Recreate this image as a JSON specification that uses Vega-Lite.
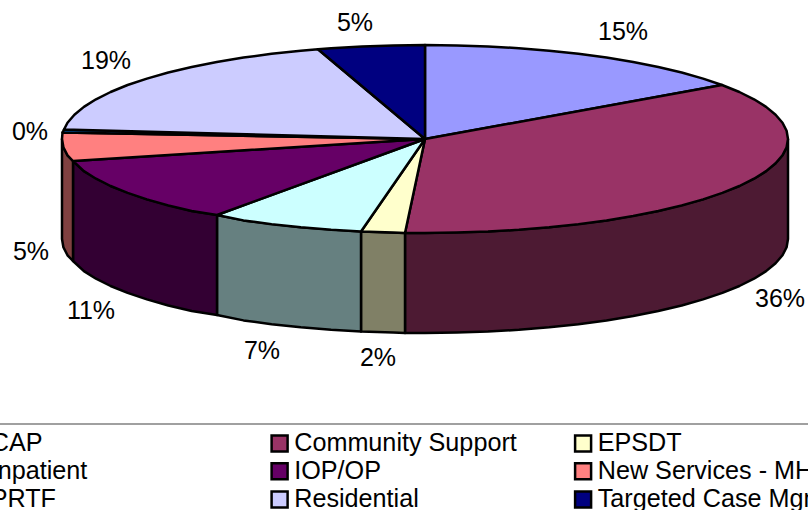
{"$schema":"https://vega.github.io/schema/vega-lite/v6.json","width":808,"height":510,"padding":0,"autosize":"none","background":"white",
"config":{"view":{"stroke":null},"font":"Liberation Sans"},
"datasets":{
"top":[
{"slice":"CAP","i":0,"x":425,"y":139},{"slice":"CAP","i":1,"x":425,"y":45},{"slice":"CAP","i":2,"x":456.7,"y":45.4},{"slice":"CAP","i":3,"x":488,"y":46.4},{"slice":"CAP","i":4,"x":518.9,"y":48.2},{"slice":"CAP","i":5,"x":549.2,"y":50.7},{"slice":"CAP","i":6,"x":578.4,"y":53.8},{"slice":"CAP","i":7,"x":606.5,"y":57.6},{"slice":"CAP","i":8,"x":633.2,"y":62},{"slice":"CAP","i":9,"x":658.3,"y":67},{"slice":"CAP","i":10,"x":681.7,"y":72.5},{"slice":"CAP","i":11,"x":703.1,"y":78.6},{"slice":"CAP","i":12,"x":722,"y":85},{"slice":"CAP","i":13,"x":425,"y":139},
{"slice":"Community Support","i":0,"x":425,"y":139},{"slice":"Community Support","i":1,"x":722,"y":85},{"slice":"Community Support","i":2,"x":739.4,"y":92},{"slice":"Community Support","i":3,"x":754,"y":99.3},{"slice":"Community Support","i":4,"x":766.1,"y":106.9},{"slice":"Community Support","i":5,"x":775.6,"y":114.7},{"slice":"Community Support","i":6,"x":782.5,"y":122.7},{"slice":"Community Support","i":7,"x":786.6,"y":130.8},{"slice":"Community Support","i":8,"x":788,"y":139},{"slice":"Community Support","i":9,"x":786.6,"y":147.2},{"slice":"Community Support","i":10,"x":782.5,"y":155.3},{"slice":"Community Support","i":11,"x":775.6,"y":163.3},{"slice":"Community Support","i":12,"x":766.1,"y":171.1},{"slice":"Community Support","i":13,"x":754,"y":178.7},{"slice":"Community Support","i":14,"x":739.4,"y":186},{"slice":"Community Support","i":15,"x":722.4,"y":192.9},{"slice":"Community Support","i":16,"x":703.1,"y":199.4},{"slice":"Community Support","i":17,"x":681.7,"y":205.5},{"slice":"Community Support","i":18,"x":658.3,"y":211},{"slice":"Community Support","i":19,"x":633.2,"y":216},{"slice":"Community Support","i":20,"x":606.5,"y":220.4},{"slice":"Community Support","i":21,"x":578.4,"y":224.2},{"slice":"Community Support","i":22,"x":549.2,"y":227.3},{"slice":"Community Support","i":23,"x":518.9,"y":229.8},{"slice":"Community Support","i":24,"x":488,"y":231.6},{"slice":"Community Support","i":25,"x":456.7,"y":232.6},{"slice":"Community Support","i":26,"x":425,"y":233},{"slice":"Community Support","i":27,"x":405,"y":233},{"slice":"Community Support","i":28,"x":425,"y":139},
{"slice":"EPSDT","i":0,"x":425,"y":139},{"slice":"EPSDT","i":1,"x":405,"y":233},{"slice":"EPSDT","i":2,"x":393.3,"y":232.6},{"slice":"EPSDT","i":3,"x":361,"y":231.5},{"slice":"EPSDT","i":4,"x":425,"y":139},
{"slice":"Inpatient","i":0,"x":425,"y":139},{"slice":"Inpatient","i":1,"x":361,"y":231.5},{"slice":"Inpatient","i":2,"x":331.1,"y":229.8},{"slice":"Inpatient","i":3,"x":300.8,"y":227.3},{"slice":"Inpatient","i":4,"x":271.6,"y":224.2},{"slice":"Inpatient","i":5,"x":243.5,"y":220.4},{"slice":"Inpatient","i":6,"x":217,"y":215},{"slice":"Inpatient","i":7,"x":425,"y":139},
{"slice":"IOP/OP","i":0,"x":425,"y":139},{"slice":"IOP/OP","i":1,"x":217,"y":215},{"slice":"IOP/OP","i":2,"x":191.7,"y":211},{"slice":"IOP/OP","i":3,"x":168.3,"y":205.5},{"slice":"IOP/OP","i":4,"x":146.9,"y":199.4},{"slice":"IOP/OP","i":5,"x":127.6,"y":192.9},{"slice":"IOP/OP","i":6,"x":110.6,"y":186},{"slice":"IOP/OP","i":7,"x":96,"y":178.7},{"slice":"IOP/OP","i":8,"x":83.9,"y":171.1},{"slice":"IOP/OP","i":9,"x":73,"y":161},{"slice":"IOP/OP","i":10,"x":425,"y":139},
{"slice":"New Services - MH","i":0,"x":425,"y":139},{"slice":"New Services - MH","i":1,"x":73,"y":161},{"slice":"New Services - MH","i":2,"x":67.5,"y":155.3},{"slice":"New Services - MH","i":3,"x":63.4,"y":147.2},{"slice":"New Services - MH","i":4,"x":62,"y":139},{"slice":"New Services - MH","i":5,"x":62.5,"y":132.5},{"slice":"New Services - MH","i":6,"x":425,"y":139},
{"slice":"PRTF","i":0,"x":425,"y":139},{"slice":"PRTF","i":1,"x":62.5,"y":132.5},{"slice":"PRTF","i":2,"x":64,"y":129.5},{"slice":"PRTF","i":3,"x":425,"y":139},
{"slice":"Residential","i":0,"x":425,"y":139},{"slice":"Residential","i":1,"x":64,"y":129.5},{"slice":"Residential","i":2,"x":67.5,"y":122.7},{"slice":"Residential","i":3,"x":74.4,"y":114.7},{"slice":"Residential","i":4,"x":83.9,"y":106.9},{"slice":"Residential","i":5,"x":96,"y":99.3},{"slice":"Residential","i":6,"x":110.6,"y":92},{"slice":"Residential","i":7,"x":127.6,"y":85},{"slice":"Residential","i":8,"x":146.9,"y":78.6},{"slice":"Residential","i":9,"x":168.3,"y":72.5},{"slice":"Residential","i":10,"x":191.7,"y":67},{"slice":"Residential","i":11,"x":216.8,"y":62},{"slice":"Residential","i":12,"x":243.5,"y":57.6},{"slice":"Residential","i":13,"x":271.6,"y":53.8},{"slice":"Residential","i":14,"x":300.8,"y":50.7},{"slice":"Residential","i":15,"x":318,"y":49.2},{"slice":"Residential","i":16,"x":425,"y":139},
{"slice":"Targeted Case Mgmt","i":0,"x":425,"y":139},{"slice":"Targeted Case Mgmt","i":1,"x":318,"y":49.2},{"slice":"Targeted Case Mgmt","i":2,"x":331.1,"y":48.2},{"slice":"Targeted Case Mgmt","i":3,"x":362,"y":46.4},{"slice":"Targeted Case Mgmt","i":4,"x":393.3,"y":45.4},{"slice":"Targeted Case Mgmt","i":5,"x":425,"y":45},{"slice":"Targeted Case Mgmt","i":6,"x":425,"y":139}
],
"wall":[
{"slice":"Community Support","i":0,"x":788,"y":139},{"slice":"Community Support","i":1,"x":786.6,"y":147.2},{"slice":"Community Support","i":2,"x":782.5,"y":155.3},{"slice":"Community Support","i":3,"x":775.6,"y":163.3},{"slice":"Community Support","i":4,"x":766.1,"y":171.1},{"slice":"Community Support","i":5,"x":754,"y":178.7},{"slice":"Community Support","i":6,"x":739.4,"y":186},{"slice":"Community Support","i":7,"x":703.1,"y":199.4},{"slice":"Community Support","i":8,"x":658.3,"y":211},{"slice":"Community Support","i":9,"x":606.5,"y":220.4},{"slice":"Community Support","i":10,"x":549.2,"y":227.3},{"slice":"Community Support","i":11,"x":488,"y":231.6},{"slice":"Community Support","i":12,"x":425,"y":233},{"slice":"Community Support","i":13,"x":405,"y":233},{"slice":"Community Support","i":14,"x":405,"y":333},{"slice":"Community Support","i":15,"x":425,"y":333},{"slice":"Community Support","i":16,"x":456.7,"y":332.6},{"slice":"Community Support","i":17,"x":488,"y":331.6},{"slice":"Community Support","i":18,"x":518.9,"y":329.8},{"slice":"Community Support","i":19,"x":549.2,"y":327.3},{"slice":"Community Support","i":20,"x":578.4,"y":324.2},{"slice":"Community Support","i":21,"x":606.5,"y":320.4},{"slice":"Community Support","i":22,"x":633.2,"y":316},{"slice":"Community Support","i":23,"x":658.3,"y":311},{"slice":"Community Support","i":24,"x":681.7,"y":305.5},{"slice":"Community Support","i":25,"x":703.1,"y":299.4},{"slice":"Community Support","i":26,"x":722.4,"y":292.9},{"slice":"Community Support","i":27,"x":739.4,"y":286},{"slice":"Community Support","i":28,"x":754,"y":278.7},{"slice":"Community Support","i":29,"x":766.1,"y":271.1},{"slice":"Community Support","i":30,"x":775.6,"y":263.3},{"slice":"Community Support","i":31,"x":782.5,"y":255.3},{"slice":"Community Support","i":32,"x":786.6,"y":247.2},{"slice":"Community Support","i":33,"x":788,"y":239},{"slice":"Community Support","i":34,"x":788,"y":139},
{"slice":"EPSDT","i":0,"x":405,"y":233},{"slice":"EPSDT","i":1,"x":361,"y":231.5},{"slice":"EPSDT","i":2,"x":361,"y":331.5},{"slice":"EPSDT","i":3,"x":393.3,"y":332.6},{"slice":"EPSDT","i":4,"x":405,"y":333},{"slice":"EPSDT","i":5,"x":405,"y":233},
{"slice":"Inpatient","i":0,"x":361,"y":231.5},{"slice":"Inpatient","i":1,"x":300.8,"y":227.3},{"slice":"Inpatient","i":2,"x":243.5,"y":220.4},{"slice":"Inpatient","i":3,"x":217,"y":215},{"slice":"Inpatient","i":4,"x":217,"y":315},{"slice":"Inpatient","i":5,"x":243.5,"y":320.4},{"slice":"Inpatient","i":6,"x":271.6,"y":324.2},{"slice":"Inpatient","i":7,"x":300.8,"y":327.3},{"slice":"Inpatient","i":8,"x":331.1,"y":329.8},{"slice":"Inpatient","i":9,"x":361,"y":331.5},{"slice":"Inpatient","i":10,"x":361,"y":231.5},
{"slice":"IOP/OP","i":0,"x":217,"y":215},{"slice":"IOP/OP","i":1,"x":191.7,"y":211},{"slice":"IOP/OP","i":2,"x":146.9,"y":199.4},{"slice":"IOP/OP","i":3,"x":110.6,"y":186},{"slice":"IOP/OP","i":4,"x":83.9,"y":171.1},{"slice":"IOP/OP","i":5,"x":73,"y":161},{"slice":"IOP/OP","i":6,"x":73,"y":261},{"slice":"IOP/OP","i":7,"x":83.9,"y":271.1},{"slice":"IOP/OP","i":8,"x":96,"y":278.7},{"slice":"IOP/OP","i":9,"x":110.6,"y":286},{"slice":"IOP/OP","i":10,"x":127.6,"y":292.9},{"slice":"IOP/OP","i":11,"x":146.9,"y":299.4},{"slice":"IOP/OP","i":12,"x":168.3,"y":305.5},{"slice":"IOP/OP","i":13,"x":191.7,"y":311},{"slice":"IOP/OP","i":14,"x":217,"y":315},{"slice":"IOP/OP","i":15,"x":217,"y":215},
{"slice":"New Services - MH","i":0,"x":73,"y":161},{"slice":"New Services - MH","i":1,"x":67.5,"y":155.3},{"slice":"New Services - MH","i":2,"x":63.4,"y":147.2},{"slice":"New Services - MH","i":3,"x":62,"y":139},{"slice":"New Services - MH","i":4,"x":62,"y":239},{"slice":"New Services - MH","i":5,"x":63.4,"y":247.2},{"slice":"New Services - MH","i":6,"x":67.5,"y":255.3},{"slice":"New Services - MH","i":7,"x":73,"y":261},{"slice":"New Services - MH","i":8,"x":73,"y":161}
],
"labels":[{"t":"15%","x":623,"y":31},{"t":"36%","x":780,"y":298},{"t":"2%","x":378,"y":357},{"t":"7%","x":262,"y":350},{"t":"11%","x":91,"y":310},{"t":"5%","x":31,"y":251},{"t":"0%","x":30,"y":131},{"t":"19%","x":106,"y":60},{"t":"5%","x":355,"y":22}],
"sep":[{"x":0,"x2":808,"y":424}]
},
"layer":[
{"data":{"name":"wall"},"mark":{"type":"line","stroke":"black","strokeWidth":2.5,"strokeJoin":"round"},
"encoding":{"x":{"field":"x","type":"quantitative","scale":{"domain":[0,808]},"axis":null},"y":{"field":"y","type":"quantitative","scale":{"domain":[0,510],"reverse":true},"axis":null},"order":{"field":"i","type":"quantitative"},
"fill":{"field":"slice","type":"nominal","legend":null,"scale":{"domain":["Community Support","EPSDT","Inpatient","IOP/OP","New Services - MH"],"range":["#4D1A33","#808066","#668080","#330033","#804040"]}}}},
{"data":{"name":"top"},"mark":{"type":"line","stroke":"black","strokeWidth":2.5,"strokeJoin":"round"},
"encoding":{"x":{"field":"x","type":"quantitative","scale":{"domain":[0,808]},"axis":null},"y":{"field":"y","type":"quantitative","scale":{"domain":[0,510],"reverse":true},"axis":null},"order":{"field":"i","type":"quantitative"},
"fill":{"field":"slice","type":"nominal","scale":{"domain":["CAP","Community Support","EPSDT","Inpatient","IOP/OP","New Services - MH","PRTF","Residential","Targeted Case Mgmt"],"range":["#9999FF","#993366","#FFFFCC","#CCFFFF","#660066","#FF8080","#0066CC","#CCCCFF","#000080"]},
"legend":{"title":null,"orient":"none","legendX":-36.5,"legendY":430,"direction":"horizontal","columns":3,"gridAlign":"all","columnPadding":42.5,"rowPadding":1.2,"symbolType":"square","symbolSize":256,"symbolStrokeColor":"black","symbolStrokeWidth":2.5,"symbolOpacity":1,"labelFontSize":25.2,"labelFont":"Liberation Sans","labelColor":"black","labelLimit":400,"labelOffset":2,"clipHeight":26}}}},
{"data":{"name":"sep"},"mark":{"type":"rule","stroke":"#808080","strokeWidth":1.5},"encoding":{"x":{"field":"x","type":"quantitative","scale":{"domain":[0,808]},"axis":null},"x2":{"field":"x2"},"y":{"field":"y","type":"quantitative","scale":{"domain":[0,510],"reverse":true},"axis":null}}},
{"data":{"name":"labels"},"mark":{"type":"text","fontSize":25,"font":"Liberation Sans","color":"black","align":"center","baseline":"middle","dy":1},"encoding":{"x":{"field":"x","type":"quantitative","scale":{"domain":[0,808]},"axis":null},"y":{"field":"y","type":"quantitative","scale":{"domain":[0,510],"reverse":true},"axis":null},"text":{"field":"t"}}}
],
"resolve":{"scale":{"fill":"independent"}}}
